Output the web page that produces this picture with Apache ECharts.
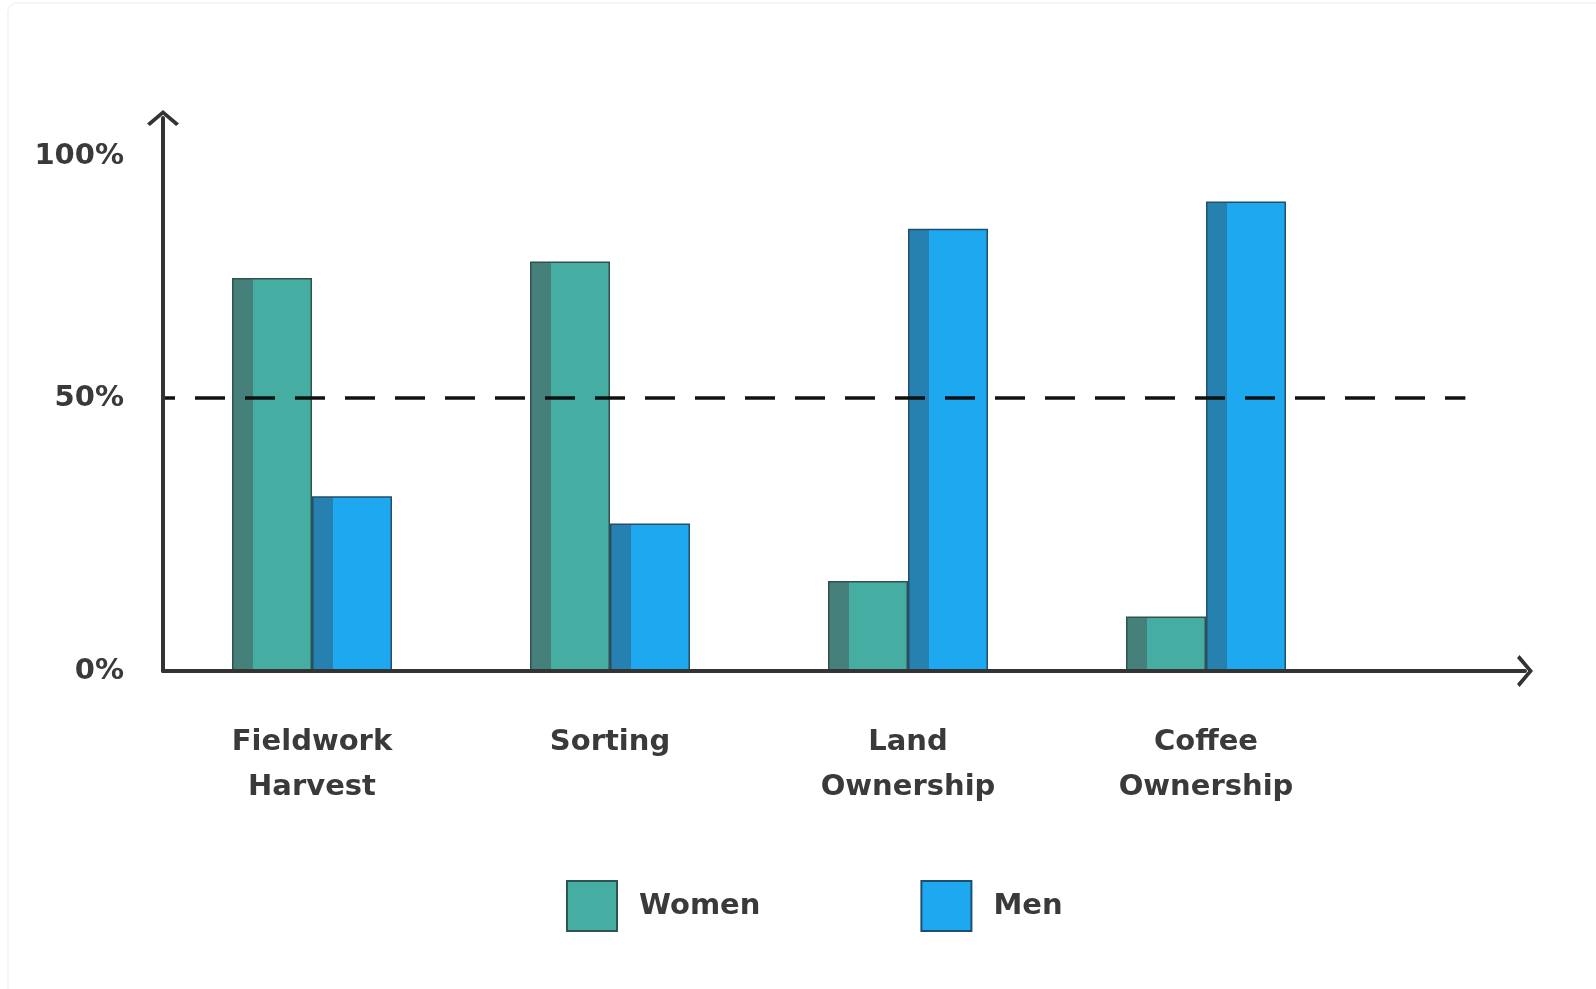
<!DOCTYPE html>
<html>
<head>
<meta charset="utf-8">
<script src="https://cdn.jsdelivr.net/npm/echarts@6/dist/echarts.min.js"></script>
<style>
  html, body { margin: 0; padding: 0; background: #fff; }
  #wrap { position: relative; width: 1596px; height: 989px; }
  #chart { width: 1596px; height: 989px; }
  /* faint card edge seen at the top-left of the reference */
  #edge { position: absolute; left: 7px; top: 2px; right: 0; bottom: 0;
          border-top: 2px solid #f1f6fa; border-left: 2px solid #f1f6fa;
          border-top-left-radius: 10px; pointer-events: none; }
</style>
</head>
<body>
<div id="wrap">
  <div id="chart"></div>
  <div id="edge"></div>
</div>
<script>
// data
const categories = ['Fieldwork\nHarvest', 'Sorting', 'Land\nOwnership', 'Coffee\nOwnership'];
const women = [72, 75, 16.5, 10];
const men = [32, 27, 81, 86];
const yTickLabels = { 0: '0%', 50: '50%', 100: '100%' };
const parityLine = [[0, 50], [4.37, 50]];   // dashed 50% line, x in category units

const FONT = 'DejaVu Sans';
const TEXT = '#3a3a3a';
const AXIS = '#333';

// open chevron, pointing up (axis builder rotates it)
const chevron = 'path://M50,0 L100,42 L91,50 L50,15 L9,50 L0,42 Z';

function barFill(dark, light) {
  return {
    type: 'linear', x: 0, y: 0, x2: 1, y2: 0,
    colorStops: [
      { offset: 0, color: dark }, { offset: 0.26, color: dark },
      { offset: 0.26, color: light }, { offset: 1, color: light }
    ]
  };
}

const chart = echarts.init(document.getElementById('chart'), null, { renderer: 'canvas' });

chart.setOption({
  backgroundColor: '#fff',
  animation: false,
  textStyle: { fontFamily: FONT },
  grid: [
    // bars
    { left: 163, top: 125, width: 1192, height: 546 },
    // long arrowed axes + 50% line
    { left: 163, top: 118, width: 1362, height: 553 }
  ],
  legend: {
    left: 561, top: 875,
    itemWidth: 50, itemHeight: 50, itemGap: 160,
    icon: 'rect',
    textStyle: { fontFamily: FONT, fontSize: 29, fontWeight: 'bold', color: TEXT, padding: [0, 0, 0, 17] },
    data: [
      { name: 'Women', itemStyle: { color: '#46ada3', borderColor: '#2f5552', borderWidth: 2 } },
      { name: 'Men', itemStyle: { color: '#1ea8f0', borderColor: '#1f4f6e', borderWidth: 2 } }
    ]
  },
  xAxis: [
    {
      gridIndex: 0, type: 'category', data: categories,
      axisLine: { show: false }, axisTick: { show: false },
      axisLabel: {
        margin: 49, fontFamily: FONT, fontSize: 29, fontWeight: 'bold',
        color: TEXT, lineHeight: 45
      }
    },
    {
      gridIndex: 1, type: 'value', min: 0, max: 4.57, z: 10,
      axisLine: {
        show: true, symbol: ['none', chevron], symbolSize: [32, 16],
        lineStyle: { color: AXIS, width: 4 }
      },
      axisTick: { show: false }, axisLabel: { show: false }, splitLine: { show: false }
    }
  ],
  yAxis: [
    {
      gridIndex: 0, type: 'value', min: 0, max: 100, interval: 50,
      axisLine: { show: false }, axisTick: { show: false }, splitLine: { show: false },
      axisLabel: {
        margin: 39, fontFamily: FONT, fontSize: 29, fontWeight: 'bold', color: TEXT,
        formatter: (v) => v === 100 ? '{top|' + yTickLabels[v] + '}' : (yTickLabels[v] || ''),
        rich: { top: { fontFamily: FONT, fontSize: 29, fontWeight: 'bold', color: TEXT, padding: [62, 0, 0, 0] } }
      }
    },
    {
      gridIndex: 1, type: 'value', min: 0, max: 101.3, z: 10,
      axisLine: {
        show: true, symbol: ['none', chevron], symbolSize: [32, 16],
        lineStyle: { color: AXIS, width: 4 }
      },
      axisTick: { show: false }, axisLabel: { show: false }, splitLine: { show: false }
    }
  ],
  series: [
    {
      name: 'Women', type: 'bar', xAxisIndex: 0, yAxisIndex: 0,
      data: women, barWidth: 80, barGap: '0%',
      itemStyle: { color: barFill('#45807a', '#46ada3'), borderColor: '#30524f', borderWidth: 1.5 }
    },
    {
      name: 'Men', type: 'bar', xAxisIndex: 0, yAxisIndex: 0,
      data: men, barWidth: 80, barGap: '0%',
      itemStyle: { color: barFill('#2680b0', '#1ea8f0'), borderColor: '#234f6b', borderWidth: 1.5 }
    },
    {
      name: '50%', type: 'line', xAxisIndex: 1, yAxisIndex: 1, z: 5,
      data: parityLine, showSymbol: false, silent: true,
      lineStyle: { color: '#111', width: 3.5, type: [30, 20], dashOffset: 18 }
    }
  ]
});
</script>
</body>
</html>
